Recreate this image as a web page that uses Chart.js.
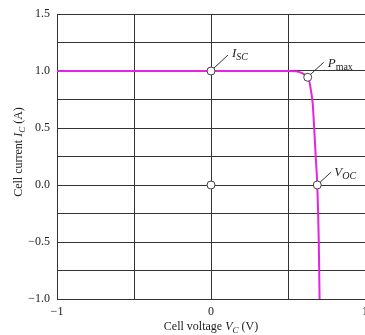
<!DOCTYPE html>
<html>
<head>
<meta charset="utf-8">
<script src="https://cdn.jsdelivr.net/npm/chart.js@4"></script>
<style>
  html, body { margin: 0; padding: 0; background: #fff; }
  #wrap { width: 365px; height: 335px; }
</style>
</head>
<body>
<div id="wrap"><canvas id="chart"></canvas></div>
<script>
// I-V curve of the cell
const voltage = [-1, -0.5, 0, 0.3, 0.5, 0.55, 0.575, 0.6, 0.615, 0.628, 0.64, 0.65, 0.66, 0.67, 0.68, 0.69, 0.7, 0.705];
const current = [1.0, 1.0, 1.0, 1.0, 1.0, 0.998, 0.99, 0.975, 0.96, 0.945, 0.9, 0.82, 0.72, 0.5, 0.25, 0.0, -0.5, -1.0];

// marked points: Isc, Pmax, Voc, origin
const markV = [0, 0.628, 0.69, 0];
const markI = [1.0, 0.945, 0.0, 0.0];
const markNames = ['SC', 'max', 'OC', ''];

const xTicks = [-1, 0, 1];
const yTicks = [-1.0, -0.5, 0.0, 0.5, 1.0, 1.5];

const FONT = '"Liberation Serif", "Times New Roman", serif';
const ctx = document.getElementById('chart');

function minus(s) { return s.replace('-', '\u2212'); }

// draws text pieces [text, italic, sub] starting at x
function drawParts(c, parts, x, y, size, subSize) {
  parts.forEach(p => {
    c.font = (p[1] ? 'italic ' : '') + (p[2] ? subSize : size) + 'px ' + FONT;
    c.fillText(p[0], x, y + (p[2] ? 3 : 0));
    x += c.measureText(p[0]).width;
  });
}
function partsWidth(c, parts, size, subSize) {
  let w = 0;
  parts.forEach(p => {
    c.font = (p[1] ? 'italic ' : '') + (p[2] ? subSize : size) + 'px ' + FONT;
    w += c.measureText(p[0]).width;
  });
  return w;
}

const labelsPlugin = {
  id: 'labels',
  afterDraw(chart) {
    const c = chart.ctx;
    const xs = chart.scales.x, ys = chart.scales.y;
    const area = chart.chartArea;
    c.save();
    c.fillStyle = '#222';
    c.strokeStyle = '#333';
    c.lineWidth = 1;
    c.textBaseline = 'alphabetic';

    // point annotations
    const offs = [
      { line: [3, -3, 17, -16], text: [21, -14], main: 'I' },
      { line: [3, -3, 16, -15], text: [20, -10], main: 'P' },
      { line: [3, -3, 14, -13], text: [17, -9], main: 'V' }
    ];
    offs.forEach((o, i) => {
      const px = xs.getPixelForValue(markV[i]);
      const py = ys.getPixelForValue(markI[i]);
      c.beginPath();
      c.moveTo(px + o.line[0], py + o.line[1]);
      c.lineTo(px + o.line[2], py + o.line[3]);
      c.stroke();
      drawParts(c, [[o.main, true, false], [markNames[i], i !== 1, true]],
        px + o.text[0], py + o.text[1], 13, 10);
    });

    // x axis title
    const xp = [['Cell voltage ', false, false], ['V', true, false], ['C', true, true], [' (V)', false, false]];
    const xw = partsWidth(c, xp, 12, 9);
    drawParts(c, xp, (area.left + area.right) / 2 - xw / 2, 330, 12, 9);

    // y axis title
    const yp = [['Cell current ', false, false], ['I', true, false], ['C', true, true], [' (A)', false, false]];
    const yw = partsWidth(c, yp, 12, 9);
    c.translate(22, 152);
    c.rotate(-Math.PI / 2);
    drawParts(c, yp, -yw / 2, 0, 12, 9);
    c.restore();
  }
};

new Chart(ctx, {
  type: 'line',
  data: {
    datasets: [
      {
        label: 'markers',
        data: markV.map((v, i) => ({ x: v, y: markI[i] })),
        showLine: false,
        pointRadius: 4,
        pointBorderWidth: 1,
        pointBackgroundColor: '#fff',
        pointBorderColor: '#444',
        order: 0
      },
      {
        label: 'I-V',
        data: voltage.map((v, i) => ({ x: v, y: current[i] })),
        borderColor: '#e424e0',
        borderWidth: 2,
        pointRadius: 0,
        tension: 0.3,
        cubicInterpolationMode: 'monotone',
        order: 1
      }
    ]
  },
  options: {
    responsive: true,
    maintainAspectRatio: false,
    animation: false,
    layout: { autoPadding: false, padding: { top: 14, right: 0, left: 0, bottom: 0 } },
    plugins: { legend: { display: false }, tooltip: { enabled: false } },
    scales: {
      x: {
        type: 'linear',
        min: -1,
        max: 1,
        afterFit: s => { s.height = 36; s.paddingRight = 0; s.paddingLeft = 0; },
        grid: { color: '#333', lineWidth: 1, drawTicks: false },
        border: { color: '#333' },
        ticks: {
          stepSize: 0.5,
          padding: 6,
          color: '#222',
          font: { family: FONT, size: 12 },
          maxRotation: 0,
          callback: v => xTicks.includes(v) ? minus(String(v)) : ''
        }
      },
      y: {
        min: -1,
        max: 1.5,
        afterFit: s => { s.width = 57; s.paddingTop = 0; s.paddingBottom = 0; },
        grid: { color: '#333', lineWidth: 1, drawTicks: false },
        border: { color: '#333' },
        ticks: {
          stepSize: 0.25,
          padding: 7,
          color: '#222',
          font: { family: FONT, size: 12 },
          callback: v => yTicks.includes(v) ? minus(v.toFixed(1)) : ''
        }
      }
    }
  },
  plugins: [labelsPlugin]
});
</script>
</body>
</html>
